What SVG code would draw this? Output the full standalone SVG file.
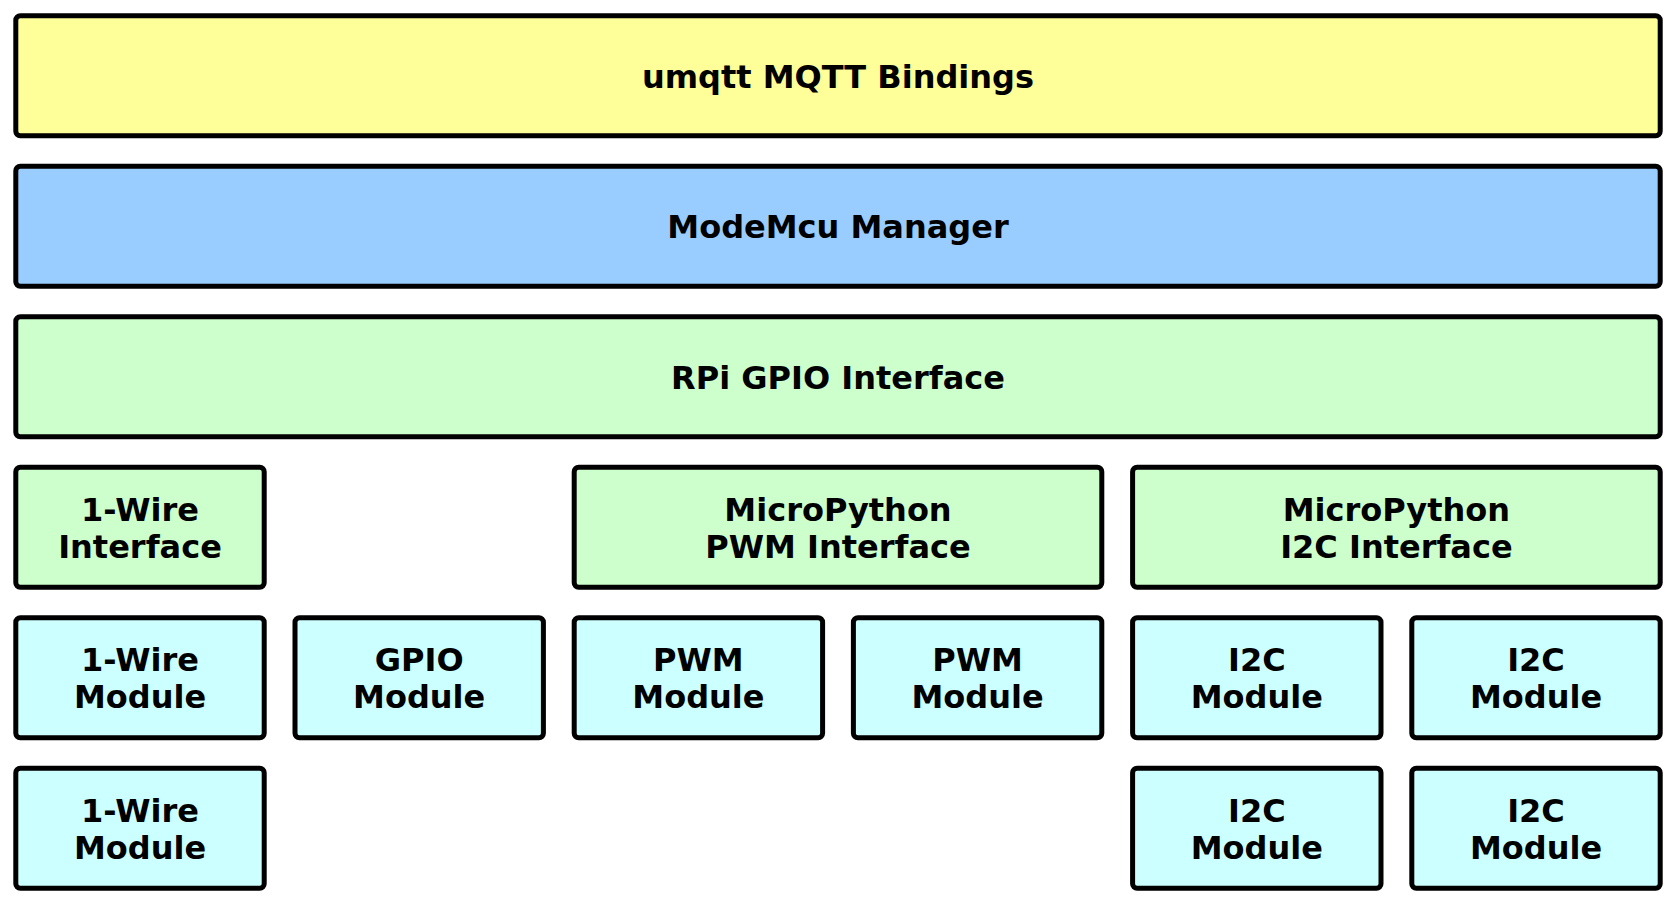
<svg xmlns="http://www.w3.org/2000/svg" width="1676" height="904" viewBox="0 0 1676 904">
<style>
rect.b{stroke:#000;stroke-width:5;rx:4.5;ry:4.5}
.y{fill:#ffff99}.bl{fill:#99ccff}.g{fill:#ccffcc}.c{fill:#ccffff}
text{font-family:"DejaVu Sans","Liberation Sans",sans-serif;font-weight:bold;font-size:32px;fill:#000;text-anchor:middle}
</style>
<rect width="1676" height="904" fill="#fff"/>
<g id="connectors"/>
<g id="mqtt"><rect class="b y" x="15.8" y="15.8" width="1644.4" height="120"/><text x="838" y="87.5">umqtt MQTT Bindings</text></g>
<g id="manager"><rect class="b bl" x="15.8" y="166.3" width="1644.4" height="120"/><text x="838" y="238">ModeMcu Manager</text></g>
<g id="rpi-gpio"><rect class="b g" x="15.8" y="316.8" width="1644.4" height="120"/><text x="838" y="388.5">RPi GPIO Interface</text></g>
<g id="onewire-if"><rect class="b g" x="15.8" y="467.3" width="248.4" height="120"/><text x="140" y="520.8">1-Wire</text><text x="140" y="557.8">Interface</text></g>
<g id="pwm-if"><rect class="b g" x="574.2" y="467.3" width="527.6" height="120"/><text x="838" y="520.8">MicroPython</text><text x="838" y="557.8">PWM Interface</text></g>
<g id="i2c-if"><rect class="b g" x="1132.6" y="467.3" width="527.6" height="120"/><text x="1396.4" y="520.8">MicroPython</text><text x="1396.4" y="557.8">I2C Interface</text></g>
<g id="onewire-mod1"><rect class="b c" x="15.8" y="617.8" width="248.4" height="120"/><text x="140" y="671.3">1-Wire</text><text x="140" y="708.3">Module</text></g>
<g id="gpio-mod"><rect class="b c" x="295" y="617.8" width="248.4" height="120"/><text x="419.2" y="671.3">GPIO</text><text x="419.2" y="708.3">Module</text></g>
<g id="pwm-mod1"><rect class="b c" x="574.2" y="617.8" width="248.4" height="120"/><text x="698.4" y="671.3">PWM</text><text x="698.4" y="708.3">Module</text></g>
<g id="pwm-mod2"><rect class="b c" x="853.4" y="617.8" width="248.4" height="120"/><text x="977.6" y="671.3">PWM</text><text x="977.6" y="708.3">Module</text></g>
<g id="i2c-mod1"><rect class="b c" x="1132.6" y="617.8" width="248.4" height="120"/><text x="1256.8" y="671.3">I2C</text><text x="1256.8" y="708.3">Module</text></g>
<g id="i2c-mod2"><rect class="b c" x="1411.8" y="617.8" width="248.4" height="120"/><text x="1536" y="671.3">I2C</text><text x="1536" y="708.3">Module</text></g>
<g id="onewire-mod2"><rect class="b c" x="15.8" y="768.3" width="248.4" height="120"/><text x="140" y="821.8">1-Wire</text><text x="140" y="858.8">Module</text></g>
<g id="i2c-mod3"><rect class="b c" x="1132.6" y="768.3" width="248.4" height="120"/><text x="1256.8" y="821.8">I2C</text><text x="1256.8" y="858.8">Module</text></g>
<g id="i2c-mod4"><rect class="b c" x="1411.8" y="768.3" width="248.4" height="120"/><text x="1536" y="821.8">I2C</text><text x="1536" y="858.8">Module</text></g>
</svg>
